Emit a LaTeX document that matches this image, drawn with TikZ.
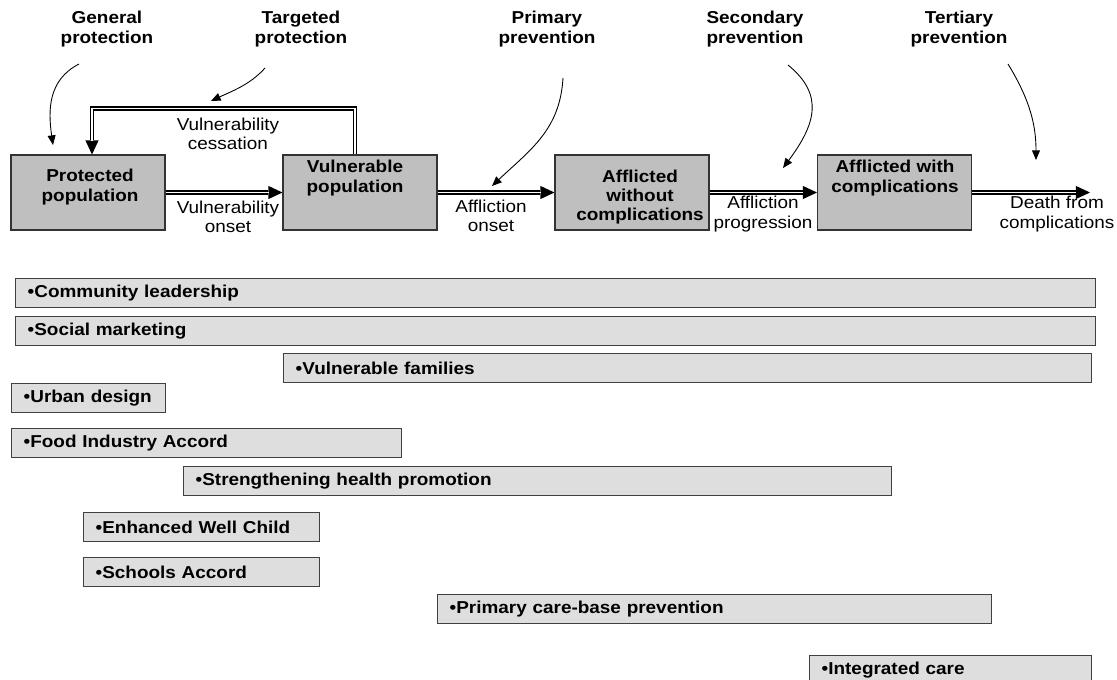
\documentclass[tikz,border=0pt]{standalone}
\usepackage{fontspec}
\setmainfont{Liberation Sans}[FakeStretch=1.1]
\usetikzlibrary{arrows.meta,calc}

\tikzset{
  stage/.style={draw=black!80, fill=black!25, line width=0.6pt, minimum width=3.08cm, minimum height=1.5cm, inner sep=0pt},
  stagetext/.style={font=\fontsize{9.8}{10.9}\selectfont\bfseries, align=center, inner sep=0pt},
  note/.style={font=\fontsize{9.8}{10.9}\selectfont, align=center, inner sep=0pt},
  flow/.style={line width=2.3pt, -{Triangle[length=8pt,width=7.5pt,line width=0pt]},
    postaction={draw=white, line width=1.1pt, shorten >=7.8pt, -}},
  hint/.style={line width=0.5pt, -{Triangle[length=5.5pt,width=4.5pt]}},
  bar/.style={anchor=north west, draw=black!75, fill=black!13, line width=0.8pt, minimum height=0.58cm, inner xsep=0.24cm, inner ysep=0pt, align=left, font=\fontsize{9.8}{10.9}\selectfont\bfseries}
}

\begin{document}
\begin{tikzpicture}[x=0.02cm, y=-0.02cm]
  \useasboundingbox (0,0) rectangle (1117,680);
  \clip (0,0) rectangle (1117,680);

  % stages
  \node[stage] (prot) at (88,192.5) {};
  \node[stage] (vul) at (360,192.5) {};
  \node[stage] (aw) at (632,192.5) {};
  \node[stage] (awc) at (894.5,192.5) {};
  \node[stagetext] (prot-t) at (90,187) {Protected\\population};
  \node[stagetext] (vul-t) at (355,178) {Vulnerable\\population};
  \node[stagetext] (aw-t) at (640,197) {Afflicted\\without\\complications};
  \node[stagetext] (awc-t) at (895,178) {Afflicted with\\complications};
  \coordinate (dead) at (1090,192.5);

  % transitions
  \draw[flow] (prot) -- (vul);
  \draw[flow] (vul) -- (aw);
  \draw[flow] (aw) -- (awc);
  \draw[flow] (awc) -- (dead);
  \draw[flow] ($(vul.north)+(-5,0)$) |- ($(prot.north)+(4,-46)$) -- ($(prot.north)+(4,0)$);
  \node[note] (cess) at (228,134) {Vulnerability\\cessation};
  \node[note] (vonset) at (228,217) {Vulnerability\\onset};
  \node[note] (aonset) at (491,216) {Affliction\\onset};
  \node[note] (aprog) at (763,214) {Affliction\\progression};
  \node[note] (death) at (1057,214) {Death from\\complications};

  % levels of prevention
  \node[stagetext] (gen) at (107,29) {General\\protection};
  \node[stagetext] (tar) at (301,29) {Targeted\\protection};
  \node[stagetext] (pri) at (547,29) {Primary\\prevention};
  \node[stagetext] (sec) at (755,29) {Secondary\\prevention};
  \node[stagetext] (ter) at (959,29) {Tertiary\\prevention};
  \coordinate (gen-a) at (79,64);   \coordinate (gen-b) at (53,145);
  \coordinate (tar-a) at (265,68);  \coordinate (tar-b) at (211,101);
  \coordinate (pri-a) at (563,78);  \coordinate (pri-b) at (492,186);
  \coordinate (sec-a) at (788,65);  \coordinate (sec-b) at (783,168);
  \coordinate (ter-a) at (1008,64); \coordinate (ter-b) at (1036,160);
  \draw[hint] (gen-a) .. controls (48,80) and (48,110) .. (gen-b);
  \draw[hint] (tar-a) .. controls (250,85) and (230,92) .. (tar-b);
  \draw[hint] (pri-a) .. controls (560,130) and (530,150) .. (pri-b);
  \draw[hint] (sec-a) .. controls (825,95) and (815,125) .. (sec-b);
  \draw[hint] (ter-a) .. controls (1030,100) and (1036,125) .. (ter-b);

  % programmes
  \foreach \n/\x/\y/\w/\t in {lead/15/278/1080/Community leadership,
      social/15/316/1080/Social marketing,
      fam/283/353/808/Vulnerable families,
      urban/11/383/154/Urban design,
      food/11/428/390/Food Industry Accord,
      health/183/466/708/Strengthening health promotion,
      child/83/512/236/Enhanced Well Child,
      school/83/557/236/Schools Accord,
      pcare/437/594/554/Primary care-base prevention,
      integ/809/655/282/Integrated care}{
    \pgfmathsetmacro\bw{\w*0.02}
    \pgfmathsetmacro\tw{(\w-24)*0.02}
    \node[bar, minimum width=\bw cm, text width=\tw cm] (\n) at (\x,\y) {\textbullet\t};
  }
\end{tikzpicture}
\end{document}
